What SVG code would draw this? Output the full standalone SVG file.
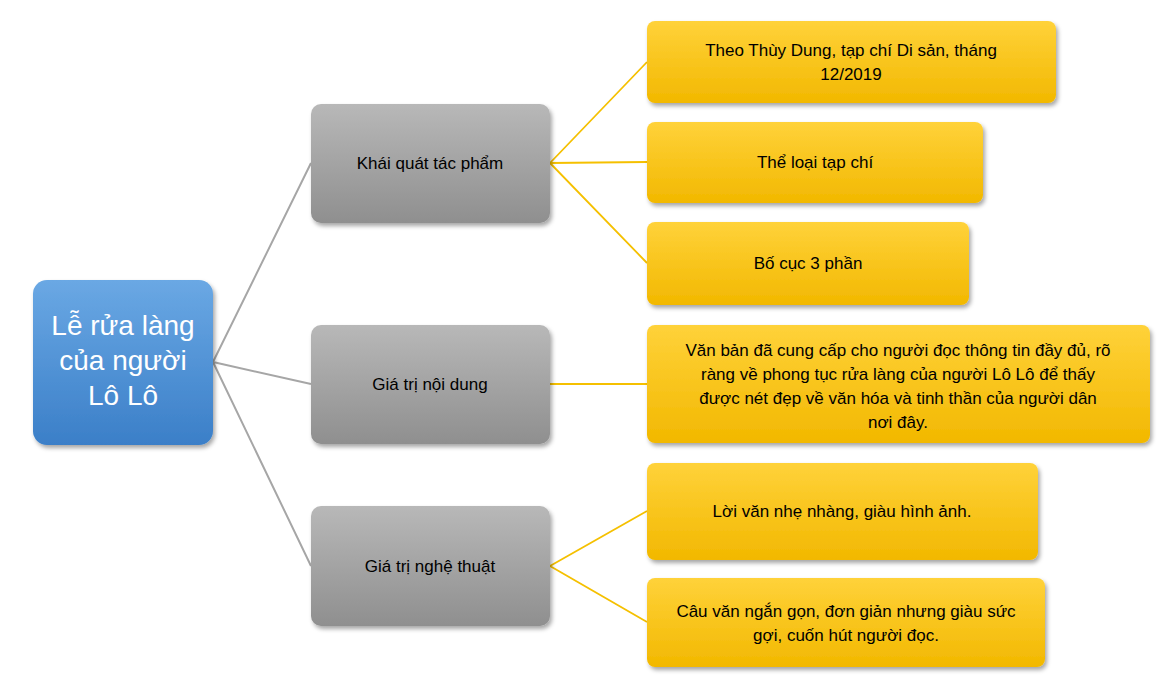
<svg xmlns="http://www.w3.org/2000/svg" width="1169" height="697" viewBox="0 0 1169 697">
<defs>
<linearGradient id="gb" x1="0" y1="0" x2="0" y2="1"><stop offset="0" stop-color="#6aa8e4"/><stop offset="1" stop-color="#3b7fc8"/></linearGradient>
<linearGradient id="gg" x1="0" y1="0" x2="0" y2="1"><stop offset="0" stop-color="#b8b8b8"/><stop offset="1" stop-color="#8f8f8f"/></linearGradient>
<linearGradient id="gy" x1="0" y1="0" x2="0" y2="1"><stop offset="0" stop-color="#ffd23a"/><stop offset="1" stop-color="#f2b800"/></linearGradient>
<filter id="sh" x="-10%" y="-10%" width="130%" height="130%"><feDropShadow dx="2" dy="3" stdDeviation="2" flood-color="#000" flood-opacity="0.35"/></filter>
</defs>
<style>
text{font-family:"Liberation Sans","Noto Sans",sans-serif;font-size:17px;fill:#000;text-anchor:middle}
.r{fill:url(#gb);filter:url(#sh)}
.g{fill:url(#gg);filter:url(#sh)}
.y{fill:url(#gy);filter:url(#sh)}
.cg{stroke:#a6a6a6;stroke-width:2;fill:none}
.cy{stroke:#f5c000;stroke-width:1.8;fill:none}
.big{font-size:28px;fill:#fff}
</style>
<rect width="1169" height="697" fill="#fff"/>
<g id="connectors">
<path class="cg" d="M213 362 L311 163 M213 362 L311 384 M213 362 L311 566"/>
<path class="cy" d="M550 163 L647 62 M550 163 L647 162 M550 163 L647 263 M550 384 L647 384 M550 566 L647 511 M550 566 L647 622"/>
</g>
<g id="root"><rect class="r" x="33" y="280" width="180" height="165" rx="14"/>
<text class="big" x="123" y="335">Lễ rửa làng</text><text class="big" x="123" y="370">của người</text><text class="big" x="123" y="405">Lô Lô</text></g>
<g id="n1"><rect class="g" x="311" y="104" width="239" height="119" rx="10"/><text x="430" y="169">Khái quát tác phẩm</text></g>
<g id="n2"><rect class="g" x="311" y="325" width="239" height="119" rx="10"/><text x="430" y="390">Giá trị nội dung</text></g>
<g id="n3"><rect class="g" x="311" y="506" width="239" height="120" rx="10"/><text x="430" y="572">Giá trị nghệ thuật</text></g>
<g id="y1"><rect class="y" x="647" y="21" width="409" height="82" rx="8"/><text x="851" y="56">Theo Thùy Dung, tạp chí Di sản, tháng</text><text x="851" y="80">12/2019</text></g>
<g id="y2"><rect class="y" x="647" y="122" width="336" height="81" rx="8"/><text x="815" y="168">Thể loại tạp chí</text></g>
<g id="y3"><rect class="y" x="647" y="222" width="322" height="83" rx="8"/><text x="808" y="269">Bố cục 3 phần</text></g>
<g id="y4"><rect class="y" x="647" y="325" width="503" height="118" rx="8"/>
<text x="898" y="356">Văn bản đã cung cấp cho người đọc thông tin đầy đủ, rõ</text>
<text x="898" y="380">ràng về phong tục rửa làng của người Lô Lô để thấy</text>
<text x="898" y="404">được nét đẹp về văn hóa và tinh thần của người dân</text>
<text x="898" y="428">nơi đây.</text></g>
<g id="y5"><rect class="y" x="647" y="463" width="391" height="97" rx="8"/><text x="842" y="517">Lời văn nhẹ nhàng, giàu hình ảnh.</text></g>
<g id="y6"><rect class="y" x="647" y="578" width="398" height="89" rx="8"/><text x="846" y="617">Câu văn ngắn gọn, đơn giản nhưng giàu sức</text><text x="846" y="641">gợi, cuốn hút người đọc.</text></g>
</svg>
